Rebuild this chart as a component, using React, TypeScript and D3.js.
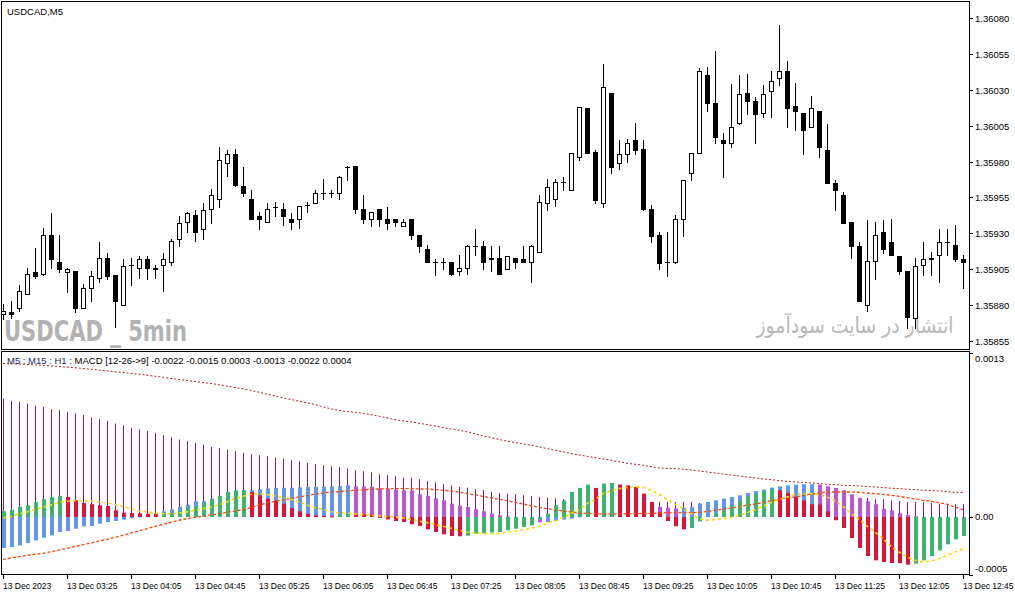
import React from "react";
import * as d3 from "d3";

// ---------- Price data (USDCAD M5, 13 Dec 2023 02:45 .. 12:45) ----------
const OPEN = [
  1.35874, 1.35875, 1.35878, 1.35888, 1.35903, 1.35902, 1.35929, 1.3591, 1.35903, 1.35904,
  1.35878, 1.35892, 1.35899, 1.35913, 1.35901, 1.3588, 1.35908, 1.35906, 1.35912, 1.35905,
  1.35908, 1.3591, 1.35926, 1.35938, 1.35943, 1.35933, 1.35947, 1.35954, 1.35979, 1.35985,
  1.35963, 1.35954, 1.35942, 1.35938, 1.35948, 1.35947, 1.3594, 1.3594, 1.3595, 1.35951,
  1.35958, 1.35958, 1.35958, 1.35976, 1.35977, 1.35947, 1.3594, 1.35947, 1.3594, 1.3594,
  1.35935, 1.3594, 1.35929, 1.35919, 1.3591, 1.3591, 1.3591, 1.35904, 1.35906, 1.35921,
  1.35921, 1.35912, 1.35913, 1.35905, 1.35913, 1.35912, 1.3591, 1.35917, 1.35951, 1.35954,
  1.35966, 1.3596, 1.35983, 1.36017, 1.35987, 1.35951, 1.36028, 1.35979, 1.35985, 1.35995,
  1.35989, 1.35947, 1.35929, 1.3591, 1.3591, 1.3594, 1.35972, 1.35986, 1.3604, 1.36021,
  1.35995, 1.35993, 1.36007, 1.36028, 1.36022, 1.36014, 1.36029, 1.36038, 1.36043, 1.36019,
  1.36014, 1.36004, 1.36015, 1.35988, 1.35965, 1.35957, 1.35938, 1.35921, 1.3588, 1.35911,
  1.35931, 1.35924, 1.35914, 1.35904, 1.35871, 1.35908, 1.35913, 1.35915, 1.35924, 1.35922,
  1.35912,
];
const HIGH = [
  1.35881, 1.35883, 1.35894, 1.35906, 1.3592, 1.35934, 1.35944, 1.35929, 1.35906, 1.35904,
  1.35895, 1.35904, 1.35924, 1.35916, 1.35901, 1.35912, 1.35913, 1.35914, 1.35914, 1.35908,
  1.35916, 1.35926, 1.35942, 1.35945, 1.35946, 1.35951, 1.35961, 1.3599, 1.35988, 1.35989,
  1.35976, 1.3596, 1.35945, 1.35951, 1.35952, 1.35951, 1.35944, 1.35949, 1.35952, 1.3596,
  1.35968, 1.3596, 1.3597, 1.35977, 1.35977, 1.35957, 1.35945, 1.35947, 1.35948, 1.3594,
  1.3594, 1.3594, 1.35929, 1.35922, 1.35912, 1.35913, 1.3591, 1.35915, 1.35922, 1.35933,
  1.35925, 1.35921, 1.35921, 1.35914, 1.35913, 1.35921, 1.35922, 1.35957, 1.35968, 1.35968,
  1.35969, 1.35986, 1.36018, 1.36017, 1.35988, 1.36048, 1.36028, 1.35995, 1.35996, 1.36007,
  1.35995, 1.3595, 1.35931, 1.35931, 1.35943, 1.35967, 1.35986, 1.36045, 1.36046, 1.36057,
  1.36, 1.36034, 1.3604, 1.36041, 1.36025, 1.36033, 1.36043, 1.36075, 1.3605, 1.36035,
  1.36014, 1.36026, 1.36015, 1.36006, 1.35967, 1.35959, 1.35938, 1.35924, 1.35939, 1.35938,
  1.35939, 1.3594, 1.35914, 1.35904, 1.35913, 1.35924, 1.35917, 1.35933, 1.35933, 1.35936,
  1.35915,
];
const LOW = [
  1.3587, 1.35871, 1.35876, 1.35888, 1.35899, 1.35901, 1.35906, 1.35903, 1.35889, 1.35875,
  1.35878, 1.35883, 1.35896, 1.35898, 1.35865, 1.3588, 1.35894, 1.35899, 1.35898, 1.35899,
  1.3589, 1.35908, 1.35921, 1.35931, 1.35925, 1.35926, 1.35937, 1.35948, 1.3597, 1.35963,
  1.35956, 1.3594, 1.35933, 1.35938, 1.35942, 1.35936, 1.35933, 1.35934, 1.35945, 1.35951,
  1.35954, 1.35955, 1.35954, 1.35967, 1.35944, 1.35937, 1.35935, 1.35935, 1.35933, 1.35935,
  1.35935, 1.35926, 1.35917, 1.3591, 1.35901, 1.35905, 1.35901, 1.35901, 1.35902, 1.35915,
  1.35905, 1.35904, 1.35902, 1.35905, 1.35906, 1.3591, 1.35896, 1.35917, 1.35946, 1.35949,
  1.3596, 1.3596, 1.35981, 1.35986, 1.35951, 1.35948, 1.35972, 1.35975, 1.3598, 1.35985,
  1.35946, 1.35924, 1.35905, 1.359, 1.35909, 1.35928, 1.35967, 1.35986, 1.36015, 1.35993,
  1.35969, 1.3599, 1.36006, 1.36013, 1.35993, 1.36011, 1.36011, 1.36033, 1.36004, 1.36002,
  1.35985, 1.36004, 1.35983, 1.35965, 1.35946, 1.35937, 1.35913, 1.35883, 1.35876, 1.35898,
  1.35916, 1.35915, 1.35902, 1.35864, 1.35864, 1.35901, 1.35901, 1.35896, 1.35915, 1.35911,
  1.35892,
];
const CLOSE = [
  1.35876, 1.35874, 1.3589, 1.35902, 1.359, 1.35929, 1.35912, 1.35905, 1.35905, 1.35878,
  1.35892, 1.359, 1.35913, 1.359, 1.35883, 1.35907, 1.35908, 1.35912, 1.35906, 1.35906,
  1.35912, 1.35925, 1.35937, 1.35944, 1.35931, 1.35946, 1.35957, 1.35981, 1.35985, 1.35964,
  1.35958, 1.3594, 1.3594, 1.35947, 1.35948, 1.35942, 1.35938, 1.35949, 1.3595, 1.35958,
  1.35958, 1.35958, 1.35969, 1.35976, 1.35947, 1.3594, 1.35945, 1.3594, 1.35937, 1.35938,
  1.35938, 1.35929, 1.35921, 1.3591, 1.3591, 1.3591, 1.35902, 1.35906, 1.35921, 1.35921,
  1.3591, 1.35913, 1.35902, 1.35914, 1.3591, 1.3591, 1.35921, 1.35952, 1.35962, 1.35966,
  1.35966, 1.35986, 1.36018, 1.35986, 1.35953, 1.36032, 1.35976, 1.35985, 1.35993, 1.35988,
  1.35947, 1.35928, 1.35909, 1.3591, 1.3594, 1.35967, 1.35986, 1.36043, 1.36021, 1.35997,
  1.35993, 1.36004, 1.36027, 1.36022, 1.36013, 1.36027, 1.36036, 1.36043, 1.36017, 1.36015,
  1.36002, 1.36017, 1.3599, 1.35965, 1.3596, 1.35937, 1.35921, 1.35883, 1.35911, 1.35929,
  1.35919, 1.35915, 1.35904, 1.35872, 1.35907, 1.35912, 1.35912, 1.35924, 1.35924, 1.35912,
  1.3591,
];

// ---------- MTF MACD data, in points (1 point = 0.00001) ----------
const M5_HIST = [
  4.5, 5.8, 7.9, 9.3, 11.9, 14.0, 15.9, 16.7, 15.9, 13.2,
  11.1, 10.1, 9.3, 8.7, 5.3, 3.4, 3.2, 2.9, 2.6, 2.4,
  2.6, 3.2, 5.3, 7.9, 8.7, 11.1, 14.0, 16.7, 19.8, 21.2,
  21.4, 19.8, 17.2, 14.6, 13.2, 10.6, 7.1, 4.5, 2.6, 1.3,
  1.0, 0.5, 1.5, 2.6, 2.4, 2.2, 1.8, -0.8, -1.9, -3.2,
  -4.0, -5.8, -7.1, -9.8, -11.9, -13.8, -15.1, -15.3, -14.8, -13.2,
  -13.0, -12.4, -11.9, -10.6, -9.3, -7.9, -6.6, -2.0, 2.6, 9.3,
  13.2, 19.8, 23.0, 25.7, 23.0, 26.5, 27.0, 25.7, 25.1, 23.8,
  18.5, 11.9, 4.0, -3.2, -7.4, -9.8, -8.7, -3.4, 0.8, 2.6,
  5.3, 9.3, 12.4, 16.7, 18.0, 20.6, 22.2, 21.2, 19.0, 15.9,
  13.2, 10.1, 10.0, 4.5, -2.6, -8.7, -16.7, -24.6, -31.0, -34.4,
  -35.7, -36.5, -36.6, -37.8, -37.0, -34.4, -31.0, -26.5, -21.7, -17.7,
  -15.1,
];
const M15_HIST = [
  -24.6, -23.8, -22.5, -20.6, -18.5, -16.4, -14.6, -11.9, -11.1, -9.3,
  -7.4, -7.1, -5.3, -4.0, -3.2, -2.1, -0.8, 0.5, 1.5, 3.0,
  4.5, 6.1, 7.9, 9.8, 12.4, 12.7, 14.5, 15.5, 16.5, 17.5,
  18.5, 21.2, 22.0, 22.5, 23.0, 23.1, 23.2, 23.5, 23.8, 23.9,
  24.0, 24.3, 24.5, 25.1, 24.3, 24.2, 23.8, 22.5, 22.4, 21.7,
  21.2, 21.1, 18.0, 16.7, 14.8, 13.2, 10.6, 9.0, 7.9, 6.1,
  4.5, 2.6, 1.3, 0.3, -0.5, -1.0, -1.5, -4.2, -4.0, -3.2,
  -2.1, -1.3, 0.5, 2.0, 3.5, 5.0, 6.5, 7.5, 8.3, 8.8,
  9.0, 8.9, 7.9, 7.4, 6.6, 7.2, 7.9, 10.6, 11.9, 13.2,
  14.6, 15.9, 17.2, 19.0, 20.6, 21.7, 23.3, 24.3, 25.1, 25.7,
  25.9, 26.0, 25.7, 24.3, 23.0, 21.2, 18.0, 15.1, 12.4, 10.1,
  6.6, 5.3, 3.2, 1.5, 0.5, -0.5, -1.5, -2.5, -3.0, -3.5,
  -4.0,
];
const H1_HIST = [
  93.9, 92.1, 91.3, 89.9, 88.1, 87.3, 85.4, 84.7, 83.3, 82.0,
  80.7, 78.8, 77.5, 76.2, 74.1, 72.8, 70.6, 69.3, 68.0, 66.7,
  64.8, 63.0, 61.4, 60.3, 58.7, 57.4, 55.6, 54.8, 53.4, 52.1,
  50.8, 49.7, 48.9, 48.1, 47.1, 46.3, 45.0, 44.2, 42.9, 41.8,
  41.0, 40.2, 39.7, 38.4, 37.0, 36.2, 35.4, 33.9, 33.1, 32.3,
  31.2, 31.0, 29.9, 28.6, 27.5, 25.9, 24.9, 23.8, 23.3, 21.9,
  21.2, 19.8, 19.0, 18.5, 18.0, 17.2, 16.4, 15.9, 15.3, 14.8,
  14.3, 13.8, 13.6, 13.5, 13.3, 13.1, 12.9, 12.7, 12.5, 12.3,
  12.1, 12.0, 11.9, 11.9, 11.9, 11.8, 11.8, 11.1, 11.0, 10.9,
  10.9, 11.0, 11.1, 11.2, 11.3, 11.5, 12.0, 12.5, 13.0, 13.5,
  14.0, 14.3, 14.6, 14.8, 15.0, 15.1, 15.2, 15.2, 15.1, 14.0,
  14.0, 13.2, 12.7, 11.9, 11.9, 11.9, 11.1, 10.6, 10.1, 10.1,
  10.1,
];
const M5_SIGNAL = [
  -0.8, 0.5, 2.4, 4.0, 6.1, 7.9, 9.5, 11.4, 12.4, 13.0,
  13.0, 12.7, 11.9, 11.1, 10.1, 8.5, 6.3, 5.0, 4.0, 2.9,
  2.6, 2.6, 3.2, 4.0, 5.3, 6.6, 7.7, 9.8, 11.9, 14.6,
  16.4, 18.0, 18.3, 17.7, 16.7, 15.3, 14.0, 11.9, 9.5, 7.4,
  5.8, 4.2, 3.3, 2.9, 2.4, 1.9, 1.3, 0.8, 0.3, 0.0,
  -0.8, -1.9, -3.2, -4.5, -5.8, -7.4, -9.0, -10.6, -11.9, -12.7,
  -13.0, -13.2, -13.0, -12.2, -11.4, -10.1, -9.0, -7.4, -4.8, -3.2,
  -0.5, 2.6, 5.8, 10.6, 13.8, 18.5, 20.6, 22.5, 23.3, 23.8,
  23.5, 21.2, 18.0, 14.2, 10.1, 6.6, 2.6, -1.3, -2.6, -2.1,
  -1.3, -0.3, 1.1, 3.4, 5.8, 8.5, 11.4, 13.8, 15.9, 18.0,
  18.5, 18.5, 17.7, 15.9, 12.7, 8.5, 2.6, -1.9, -7.1, -11.9,
  -17.2, -23.3, -27.8, -31.7, -34.4, -35.7, -34.9, -33.1, -30.4, -27.8,
  -25.4,
];
const M15_SIGNAL = [
  -33.6, -32.5, -31.5, -30.4, -29.6, -28.8, -27.5, -26.2, -24.9, -23.3,
  -22.0, -20.6, -19.0, -17.7, -16.1, -14.6, -12.7, -11.1, -9.3, -7.4,
  -5.8, -4.2, -2.6, -1.3, -0.3, 0.8, 1.6, 2.6, 3.7, 4.8,
  5.8, 7.4, 9.3, 11.1, 12.4, 13.5, 14.8, 15.9, 16.9, 18.0,
  19.0, 19.8, 20.1, 20.6, 21.2, 21.4, 22.0, 22.2, 22.5, 22.5,
  22.5, 22.5, 22.2, 22.2, 21.7, 21.2, 20.6, 19.8, 18.5, 17.5,
  16.4, 15.1, 14.0, 13.0, 11.6, 10.3, 9.0, 7.7, 6.6, 5.6,
  4.8, 4.0, 3.2, 2.9, 2.6, 2.4, 2.4, 2.4, 2.4, 2.6,
  2.9, 2.9, 3.2, 3.4, 3.4, 3.4, 3.4, 3.7, 4.2, 5.3,
  6.3, 7.1, 8.2, 9.3, 10.3, 11.4, 13.0, 14.0, 15.1, 15.9,
  16.9, 18.0, 19.0, 19.8, 19.8, 19.8, 19.8, 19.6, 19.0, 18.5,
  18.0, 17.2, 16.4, 15.3, 14.3, 13.2, 12.4, 11.4, 10.1, 7.9,
  5.8,
];
const H1_SIGNAL = [
  121.7, 121.4, 121.2, 120.9, 120.6, 120.1, 119.8, 119.3, 118.8, 118.3,
  117.7, 117.2, 116.4, 115.9, 115.1, 114.6, 113.8, 113.2, 112.4, 111.6,
  110.8, 109.8, 109.0, 108.2, 107.4, 106.6, 105.8, 104.8, 103.7, 102.6,
  101.6, 100.3, 98.9, 97.4, 96.0, 94.4, 93.1, 91.8, 90.5, 89.2,
  87.3, 85.7, 84.4, 83.6, 83.1, 82.3, 81.2, 79.9, 78.6, 77.2,
  76.2, 75.4, 74.3, 73.3, 72.2, 70.9, 69.8, 68.8, 67.5, 65.9,
  64.3, 63.0, 61.4, 60.1, 59.0, 57.9, 56.9, 55.6, 54.2, 52.9,
  51.6, 50.3, 49.2, 48.1, 47.1, 46.0, 45.0, 43.7, 42.6, 41.8,
  41.0, 39.9, 38.9, 38.5, 38.4, 37.8, 37.3, 36.5, 35.7, 34.9,
  34.1, 33.3, 32.5, 31.7, 31.0, 30.2, 29.6, 28.8, 28.3, 27.8,
  27.5, 27.0, 26.5, 25.9, 25.7, 25.1, 24.9, 24.6, 24.1, 23.8,
  23.3, 22.8, 22.5, 22.0, 21.7, 21.2, 20.9, 20.6, 20.1, 19.6,
  19.3,
];

// ---------- Axis labels ----------
const PRICE_TICKS = [1.3608, 1.36055, 1.3603, 1.36005, 1.3598, 1.35955, 1.3593, 1.35905, 1.3588, 1.35855];
const MACD_TICK_VALUES = [0.0013, 0, -0.0005];
const MACD_TICK_LABELS = ["0.0013", "0.00", "-0.0005"];
const TIME_LABELS = [
  "13 Dec 2023", "13 Dec 03:25", "13 Dec 04:05", "13 Dec 04:45", "13 Dec 05:25", "13 Dec 06:05",
  "13 Dec 06:45", "13 Dec 07:25", "13 Dec 08:05", "13 Dec 08:45", "13 Dec 09:25", "13 Dec 10:05",
  "13 Dec 10:45", "13 Dec 11:25", "13 Dec 12:05", "13 Dec 12:45",
];
const TIME_LABEL_STEP = 8; // bars between time labels

const POINT = 0.00001;
const FONT = "'Liberation Sans', Arial, sans-serif";

export default function App() {
  const N = CLOSE.length;
  const x = d3.scaleLinear().domain([0, N - 1]).range([3, 963]);
  const yP = d3.scaleLinear().domain([1.35855, 1.3608]).range([341, 18]);
  const yM = d3.scaleLinear().domain([-0.00046, 0.0013]).range([575, 353]);

  const main = { l: 1.5, t: 1.5, r: 969.5, b: 349.5 };
  const sub = { l: 1.5, t: 351.5, r: 969.5, b: 574.5 };

  const line = d3
    .line<number>()
    .x((_, i) => x(i))
    .y((v) => yM(v * POINT));

  const zeroY = yM(0);
  const colorM5 = (i: number) => (i === 0 || M5_HIST[i] >= M5_HIST[i - 1] ? "#3CB371" : "#DC143C");
  const colorM15 = (i: number) => (i === 0 || M15_HIST[i] >= M15_HIST[i - 1] ? "#6495ED" : "#BA55D3");

  const barRect = (v: number) => {
    const y1 = yM(v * POINT);
    return { y: Math.min(y1, zeroY), h: Math.max(1, Math.abs(y1 - zeroY)) };
  };

  return (
    <svg
      width={1015}
      height={596}
      style={{ position: "fixed", left: 0, top: 0, background: "#fff" }}
      fontFamily={FONT}
    >
      <defs>
        <clipPath id="clipMain">
          <rect x={main.l} y={main.t} width={main.r - main.l} height={main.b - main.t} />
        </clipPath>
        <clipPath id="clipSub">
          <rect x={sub.l} y={sub.t} width={sub.r - sub.l} height={sub.b - sub.t} />
        </clipPath>
      </defs>
      <rect x={0} y={0} width={1015} height={596} fill="#fff" />

      {/* ---- main price panel ---- */}
      <g clipPath="url(#clipMain)">
        {/* watermarks */}
        <text
          x={4}
          y={341}
          fontFamily="'DejaVu Sans Condensed', 'Liberation Sans Narrow', Arial, sans-serif"
          fontWeight="bold"
          fontSize={28}
          fill="#b2b2b2"
          textLength={183}
          lengthAdjust="spacingAndGlyphs"
        >
          USDCAD _ 5min
        </text>
        <text
          x={855}
          y={333}
          fontFamily="'DejaVu Sans', 'Noto Sans', sans-serif"
          fontSize={22}
          fill="#b8b8b8"
          textAnchor="middle"
          direction="rtl"
          textLength={197}
          lengthAdjust="spacingAndGlyphs"
        >
          انتشار در سایت سودآموز
        </text>

        {CLOSE.map((c, i) => {
          const o = OPEN[i];
          const cx = Math.round(x(i));
          const yh = Math.round(yP(HIGH[i]));
          const yl = Math.round(yP(LOW[i]));
          const yo = Math.round(yP(o));
          const yc = Math.round(yP(c));
          const top = Math.min(yo, yc);
          const bot = Math.max(yo, yc);
          const bull = c > o;
          return (
            <g key={i}>
              <line x1={cx + 0.5} x2={cx + 0.5} y1={yh} y2={yl + 1} stroke="#000" strokeWidth={1} />
              {top === bot ? (
                <line x1={cx - 2} x2={cx + 3} y1={top + 0.5} y2={top + 0.5} stroke="#000" strokeWidth={1} />
              ) : (
                <rect
                  x={cx - 1.5}
                  y={top + 0.5}
                  width={4}
                  height={bot - top}
                  fill={bull ? "#fff" : "#000"}
                  stroke="#000"
                  strokeWidth={1}
                />
              )}
            </g>
          );
        })}
        <text x={7} y={15} fontSize={9.5} fill="#000">
          USDCAD,M5
        </text>
      </g>
      <rect x={main.l} y={main.t} width={main.r - main.l} height={main.b - main.t} fill="none" stroke="#000" />

      {/* price axis */}
      {PRICE_TICKS.map((p) => {
        const y = Math.round(yP(p)) + 0.5;
        return (
          <g key={p}>
            <line x1={969} x2={973} y1={y} y2={y} stroke="#000" />
            <text x={975} y={y + 3.5} fontSize={9.5} fill="#000">
              {p.toFixed(5)}
            </text>
          </g>
        );
      })}

      {/* ---- MACD sub panel ---- */}
      <g clipPath="url(#clipSub)">
        {H1_HIST.map((v, i) => {
          const r = barRect(v);
          return <rect key={"h" + i} x={Math.round(x(i))} y={r.y} width={1} height={r.h} fill="#7d0cc4" />;
        })}
        {M15_HIST.map((v, i) => {
          const r = barRect(v);
          return <rect key={"q" + i} x={Math.round(x(i)) - 1} y={r.y} width={4} height={r.h} fill={colorM15(i)} />;
        })}
        {M5_HIST.map((v, i) => {
          const r = barRect(v);
          return <rect key={"f" + i} x={Math.round(x(i)) - 1} y={r.y} width={4} height={r.h} fill={colorM5(i)} />;
        })}
        <path d={line(H1_SIGNAL) || ""} fill="none" stroke="#B22222" strokeWidth={1} strokeDasharray="2,2" />
        <path d={line(M15_SIGNAL) || ""} fill="none" stroke="#FF4500" strokeWidth={1.3} strokeDasharray="3,2" />
        <path d={line(M5_SIGNAL) || ""} fill="none" stroke="#FFD700" strokeWidth={1.6} strokeDasharray="3,3" />
        <text x={7} y={364} fontSize={9.5} fill="#000">
          <tspan fill="#1c2d5a">M5 : M15 : H1 :</tspan>
          <tspan>{"  MACD [12-26->9] -0.0022 -0.0015 0.0003 -0.0013 -0.0022 0.0004"}</tspan>
        </text>
      </g>
      <rect x={sub.l} y={sub.t} width={sub.r - sub.l} height={sub.b - sub.t} fill="none" stroke="#000" />

      {/* macd axis */}
      {MACD_TICK_VALUES.map((v, k) => {
        const yt = Math.min(Math.max(yM(v), sub.t), sub.b);
        const ty = Math.min(Math.max(yM(v) + 3.5, sub.t + 10), sub.b - 3);
        return (
          <g key={k}>
            <line x1={969} x2={973} y1={Math.round(yt) + 0.5} y2={Math.round(yt) + 0.5} stroke="#000" />
            <text x={975} y={ty} fontSize={9.5} fill="#000">
              {MACD_TICK_LABELS[k]}
            </text>
          </g>
        );
      })}

      {/* time axis */}
      {TIME_LABELS.map((t, k) => {
        const cx = Math.round(x(k * TIME_LABEL_STEP)) + 0.5;
        return (
          <g key={t}>
            <line x1={cx} x2={cx} y1={575} y2={579} stroke="#000" />
            <text x={cx - 0.5} y={589} fontSize={8.5} fill="#000">
              {t}
            </text>
          </g>
        );
      })}
    </svg>
  );
}
